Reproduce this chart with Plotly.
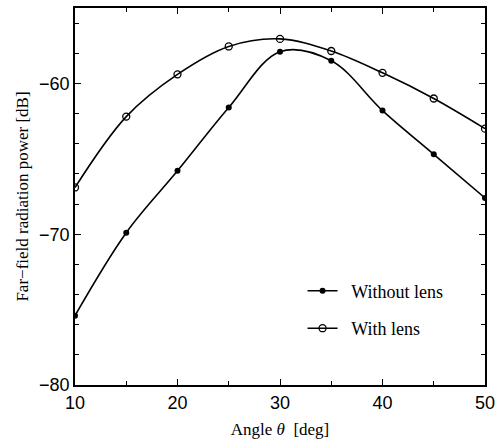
import plotly.graph_objects as go

angles = [10, 15, 20, 25, 30, 35, 40, 45, 50]
without_lens = [-75.4, -69.9, -65.8, -61.6, -57.9, -58.5, -61.8, -64.7, -67.6]
with_lens = [-66.9, -62.2, -59.4, -57.55, -57.05, -57.85, -59.3, -61.0, -63.0]

fig = go.Figure()
fig.add_trace(go.Scatter(
    x=angles, y=without_lens, mode="lines+markers", name="  Without lens",
    line=dict(color="black", width=1.6, shape="spline", smoothing=1.0),
    marker=dict(symbol="circle", size=6, color="black"),
    legendgroup="a"))
fig.add_trace(go.Scatter(
    x=angles, y=with_lens, mode="lines+markers", name="  With lens",
    line=dict(color="black", width=1.6, shape="spline", smoothing=1.0),
    marker=dict(symbol="circle-open", size=7, color="black", line=dict(width=1.3)),
    legendgroup="b"))

axis_common = dict(
    showline=True, linecolor="black", linewidth=1.8, mirror="ticks",
    ticks="inside", ticklen=6, tickwidth=1, tickcolor="black",
    showgrid=False, zeroline=False,
    tickfont=dict(family="Liberation Sans, Arial", size=18, color="black"),
)

fig.update_xaxes(range=[10, 50], dtick=10, tick0=10,
                 minor=dict(dtick=5, ticks="inside", ticklen=4, tickcolor="black"),
                 title=dict(text="Angle <i>θ</i>  [deg]",
                            font=dict(family="Liberation Serif, Times New Roman", size=17, color="black"),
                            standoff=12),
                 **axis_common)
fig.update_yaxes(range=[-80, -55], dtick=10, tick0=-80,
                 minor=dict(dtick=2, ticks="inside", ticklen=4, tickcolor="black"),
                 title=dict(text="Far−field radiation power [dB]",
                            font=dict(family="Liberation Serif, Times New Roman", size=17, color="black"),
                            standoff=6),
                 **axis_common)

fig.update_layout(
    width=502, height=442,
    margin=dict(l=75, r=17, t=6, b=55),
    plot_bgcolor="white", paper_bgcolor="white",
    legend=dict(x=0.555, y=0.20, xanchor="left", yanchor="middle",
                font=dict(family="Liberation Serif, Times New Roman", size=18, color="black"),
                bgcolor="rgba(0,0,0,0)", tracegroupgap=11),
    showlegend=True,
)

fig.write_html("out.html")
